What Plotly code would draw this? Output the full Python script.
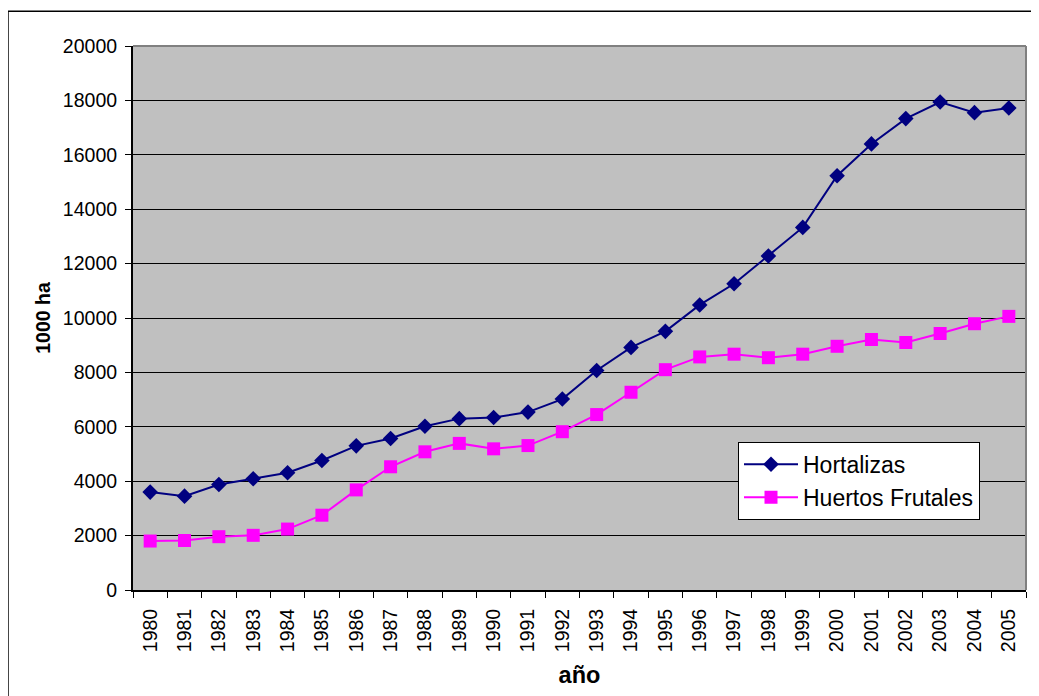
import plotly.graph_objects as go

years = [str(y) for y in range(1980, 2006)]
hortalizas = [3600, 3450, 3880, 4090, 4310, 4760, 5300, 5570, 6020, 6300, 6340, 6540, 7020,
              8070, 8920, 9510, 10480, 11260, 12280, 13330, 15230, 16400, 17330, 17940, 17550, 17720]
huertos = [1800, 1820, 1960, 2010, 2240, 2750, 3680, 4530, 5080, 5390, 5190, 5310, 5820,
           6450, 7270, 8100, 8570, 8670, 8540, 8670, 8960, 9210, 9100, 9430, 9790, 10060]
y_ticks = list(range(0, 20001, 2000))

fig = go.Figure()
fig.add_trace(go.Scatter(
    x=years, y=hortalizas, name="Hortalizas", mode="lines+markers",
    line=dict(color="#000080", width=2),
    marker=dict(symbol="diamond", size=12, color="#000080"),
))
fig.add_trace(go.Scatter(
    x=years, y=huertos, name="Huertos Frutales", mode="lines+markers",
    line=dict(color="#FF00FF", width=2),
    marker=dict(symbol="square", size=13, color="#FF00FF"),
))

font = "Arial, Liberation Sans, sans-serif"
# the page body has an 8px margin, so the figure is 8px smaller and shifted
fig.update_layout(
    width=1031, height=688,
    margin=dict(l=125, r=13, t=38, b=103),
    paper_bgcolor="white", plot_bgcolor="#C0C0C0",
    font=dict(family=font, color="black", size=19.5),
    showlegend=True,
    legend=dict(
        x=0.6775, y=0.2724, xanchor="left", yanchor="top",
        bgcolor="white", bordercolor="black", borderwidth=1,
        font=dict(size=23, family=font), tracegroupgap=0, itemwidth=54,
    ),
    xaxis=dict(
        type="category", range=[-0.5, 25.5], tickson="boundaries",
        ticks="outside", ticklen=6, tickcolor="black", tickwidth=1,
        tickangle=-90, tickfont=dict(size=19.5), ticklabelstandoff=9,
        showgrid=False, showline=True, linecolor="black", linewidth=2,
        title=dict(text="<b>año</b>", font=dict(size=23.5), standoff=15),
        zeroline=False,
    ),
    yaxis=dict(
        range=[0, 20000], tickvals=y_ticks, ticktext=[str(v) for v in y_ticks],
        ticks="outside", ticklen=6, tickcolor="black", tickwidth=1,
        tickfont=dict(size=19.5), ticklabelstandoff=4,
        showgrid=True, gridcolor="black", gridwidth=1,
        showline=True, linecolor="black", linewidth=2,
        zeroline=False,
        title=dict(text="<b>1000 ha</b>", font=dict(size=19.5), standoff=7),
    ),
    shapes=[
        dict(type="line", xref="paper", yref="paper", x0=0, x1=1, y0=1, y1=1,
             line=dict(color="#808080", width=2)),
        dict(type="line", xref="paper", yref="paper", x0=1, x1=1, y0=0, y1=1,
             line=dict(color="#808080", width=2)),
        dict(type="rect", xref="paper", yref="paper", x0=-0.1400, x1=1.1, y0=-0.3, y1=1.064,
             line=dict(color="black", width=1.5), fillcolor="rgba(0,0,0,0)"),
    ],
)

fig.write_html("out.html")
